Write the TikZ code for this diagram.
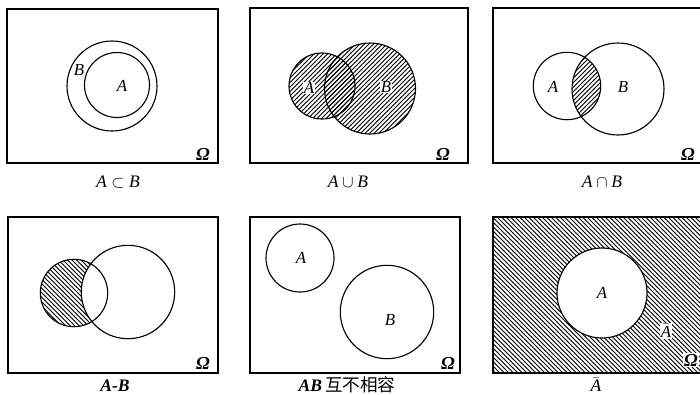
\documentclass[tikz,border=0pt]{standalone}
\usepackage{fontspec}
\setmainfont{Liberation Serif}
\newfontfamily\cjk{Noto Sans CJK SC}
\usetikzlibrary{patterns}
\pgfdeclarepatternformonly{hatchNE}{\pgfqpoint{-1pt}{-1pt}}{\pgfqpoint{4.2pt}{4.2pt}}{\pgfqpoint{3.2pt}{3.2pt}}{%
  \pgfsetlinewidth{0.6pt}%
  \pgfpathmoveto{\pgfqpoint{0pt}{0pt}}%
  \pgfpathlineto{\pgfqpoint{3.3pt}{3.3pt}}%
  \pgfusepath{stroke}}
\pgfdeclarepatternformonly{hatchNW}{\pgfqpoint{-1pt}{-1pt}}{\pgfqpoint{4.2pt}{4.2pt}}{\pgfqpoint{3.2pt}{3.2pt}}{%
  \pgfsetlinewidth{0.6pt}%
  \pgfpathmoveto{\pgfqpoint{0pt}{3.2pt}}%
  \pgfpathlineto{\pgfqpoint{3.3pt}{-0.1pt}}%
  \pgfusepath{stroke}}
\begin{document}
\begin{tikzpicture}[x=0.025cm,y=-0.025cm, line width=0.8pt,
  box/.style={line width=1pt},
  lbl/.style={font=\fontsize{12}{14}\selectfont\itshape, inner sep=0.6pt},
  om/.style={font=\fontsize{13}{15}\selectfont\bfseries\itshape, inner sep=0.6pt},
  capt/.style={font=\fontsize{12.5}{14}\selectfont\itshape},
  hne/.style={pattern=hatchNE},
  hnw/.style={pattern=hatchNW}]
\useasboundingbox (0,0) rectangle (700,395);
\clip (0,0) rectangle (700,395);
% ---------- panel 1: A subset B
\draw[box] (7,9) rectangle (218,163);
\draw (112,86) circle[radius=45];
\draw (117,85) circle[radius=32.5];
\node[lbl] (b1) at (79,70) {B};
\node[lbl] (a1) at (122,86) {A};
\node[om] (o1) at (203,154) {Ω};
\node[capt] (c1) at (118,182) {$\textit{A}\subset\textit{B}$};
% ---------- panel 2: A union B
\draw[box] (250,8) rectangle (468,163);
\fill[hne] (322,86) circle[radius=33];
\fill[hne] (370,88.5) circle[radius=45.5];
\draw (322,86) circle[radius=33];
\draw (370,88.5) circle[radius=45.5];
\node[lbl, fill=white] (a2) at (309,88) {A};
\node[lbl, fill=white] (b2) at (386,87) {B};
\node[om] (o2) at (443,154) {Ω};
\node[capt] (c2) at (348,182) {$\textit{A}\cup\textit{B}$};
% ---------- panel 3: A intersect B
\draw[box] (493,8) rectangle (706,163);
\begin{scope}
  \clip (567,86) circle[radius=33.7];
  \fill[hne] (618,89) circle[radius=46];
\end{scope}
\draw (567,86) circle[radius=33.7];
\draw (618,89) circle[radius=46];
\node[lbl] (a3) at (553,87) {A};
\node[lbl] (b3) at (623,87) {B};
\node[om] (o3) at (688,154) {Ω};
\node[capt] (c3) at (602,182) {$\textit{A}\cap\textit{B}$};
% ---------- panel 4: A - B
\draw[box] (8,217) rectangle (218,373);
\fill[hnw] (74,293) circle[radius=33.7];
\begin{scope}
  \clip (74,293) circle[radius=33.7];
  \fill[white] (128,292) circle[radius=46.7];
\end{scope}
\draw (74,293) circle[radius=33.7];
\draw (128,292) circle[radius=46.7];
\node[om] (o4) at (203,363) {Ω};
\node[capt, font=\fontsize{12.5}{14}\selectfont\bfseries\itshape] (c4) at (115,386) {A-B};
% ---------- panel 5: disjoint
\draw[box] (250,217) rectangle (460,373);
\draw (300,258) circle[radius=34];
\draw (387,312) circle[radius=46.7];
\node[lbl] (a5) at (301,258) {A};
\node[lbl] (b5) at (390,320) {B};
\node[om] (o5) at (448,363) {Ω};
\node[capt] (c5) at (347,385) {\textbf{AB}\,{\cjk\upshape 互不相容}};
% ---------- panel 6: complement
\fill[hnw, even odd rule] (493,217) rectangle (706,373) (602,293) circle[radius=45];
\draw[box] (493,217) rectangle (706,373);
\draw (602,293) circle[radius=45];
\node[lbl] (a6) at (602,293) {A};
\node[lbl, fill=white] (ab6) at (666,331) {$\bar{\textit{A}}$};
\node[om, fill=white] (o6) at (691,360) {Ω};
\node[capt] (c6) at (596,385) {$\bar{\textit{A}}$};
\end{tikzpicture}
\end{document}
